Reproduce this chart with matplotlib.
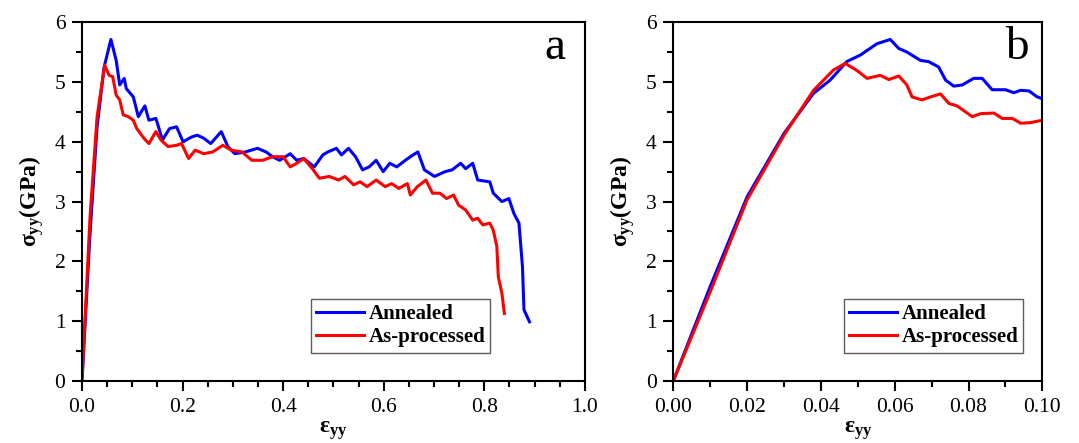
import matplotlib
matplotlib.use('Agg')
import matplotlib.pyplot as plt
from matplotlib.ticker import MultipleLocator

plt.rcParams['font.family'] = ['Liberation Serif', 'DejaVu Serif']
plt.rcParams['mathtext.fontset'] = 'custom'
plt.rcParams['mathtext.rm'] = 'Liberation Serif'
plt.rcParams['mathtext.it'] = 'Liberation Serif:bold'
plt.rcParams['mathtext.bf'] = 'Liberation Serif:bold'

# panel a - full curves
ann_x = [0.0, 0.016, 0.030, 0.044, 0.0575, 0.068, 0.075, 0.084, 0.088, 0.102, 0.112, 0.125, 0.133,
         0.147, 0.160, 0.174, 0.188, 0.201, 0.218, 0.229, 0.242, 0.256, 0.277, 0.290, 0.304, 0.325,
         0.349, 0.366, 0.379, 0.393, 0.414, 0.427, 0.441, 0.462, 0.479, 0.489, 0.506, 0.516, 0.530,
         0.544, 0.558, 0.571, 0.585, 0.599, 0.612, 0.626, 0.643, 0.653, 0.668, 0.681, 0.701, 0.722,
         0.736, 0.753, 0.763, 0.777, 0.787, 0.811, 0.818, 0.835, 0.849, 0.859, 0.869, 0.876, 0.879, 0.890]
ann_y = [0.0, 2.47, 4.25, 5.25, 5.71, 5.36, 4.95, 5.06, 4.89, 4.75, 4.42, 4.60, 4.36,
         4.39, 4.03, 4.22, 4.25, 4.00, 4.08, 4.11, 4.06, 3.97, 4.17, 3.92, 3.80, 3.83,
         3.89, 3.83, 3.75, 3.69, 3.80, 3.69, 3.72, 3.58, 3.78, 3.83, 3.89, 3.78, 3.89,
         3.75, 3.53, 3.58, 3.69, 3.50, 3.64, 3.58, 3.69, 3.75, 3.83, 3.53, 3.42, 3.50,
         3.53, 3.64, 3.55, 3.64, 3.36, 3.33, 3.14, 3.00, 3.05, 2.80, 2.64, 1.91, 1.19, 0.99]

asp_x = [0.0, 0.016, 0.030, 0.045, 0.054, 0.061, 0.068, 0.075, 0.082, 0.092, 0.102, 0.109, 0.123,
         0.133, 0.147, 0.157, 0.171, 0.188, 0.198, 0.212, 0.225, 0.242, 0.260, 0.280, 0.297, 0.318,
         0.338, 0.359, 0.379, 0.400, 0.414, 0.427, 0.441, 0.458, 0.472, 0.492, 0.510, 0.523, 0.540,
         0.553, 0.567, 0.585, 0.603, 0.616, 0.630, 0.647, 0.653, 0.667, 0.684, 0.697, 0.712, 0.725,
         0.739, 0.749, 0.763, 0.777, 0.787, 0.797, 0.811, 0.818, 0.825, 0.828, 0.835, 0.840]
asp_y = [0.0, 2.75, 4.42, 5.28, 5.11, 5.09, 4.78, 4.70, 4.45, 4.42, 4.36, 4.22, 4.06,
         3.97, 4.17, 4.03, 3.92, 3.94, 3.97, 3.72, 3.86, 3.80, 3.83, 3.94, 3.86, 3.83,
         3.69, 3.69, 3.75, 3.75, 3.58, 3.64, 3.72, 3.55, 3.39, 3.42, 3.36, 3.42, 3.28,
         3.33, 3.25, 3.36, 3.25, 3.30, 3.22, 3.30, 3.11, 3.25, 3.36, 3.14, 3.14, 3.05,
         3.11, 2.94, 2.86, 2.69, 2.72, 2.61, 2.64, 2.52, 2.25, 1.74, 1.47, 1.13]

# panel b - zoom on small strain
ann_bx = [0.0, 0.010, 0.020, 0.030, 0.038, 0.0425, 0.047, 0.0507, 0.0552, 0.0588, 0.0611, 0.0633,
          0.067, 0.0692, 0.0719, 0.0738, 0.076, 0.0783, 0.0814, 0.0837, 0.0864, 0.090, 0.0923,
          0.0941, 0.0964, 0.0986, 0.100]
ann_by = [0.0, 1.58, 3.08, 4.14, 4.81, 5.03, 5.34, 5.45, 5.64, 5.71, 5.56, 5.50,
          5.36, 5.34, 5.25, 5.03, 4.93, 4.95, 5.06, 5.06, 4.87, 4.87, 4.82,
          4.86, 4.85, 4.75, 4.72]
asp_bx = [0.0, 0.010, 0.020, 0.030, 0.038, 0.0434, 0.0466, 0.0498, 0.0525, 0.0561, 0.0584, 0.0611,
          0.0633, 0.0647, 0.0674, 0.0697, 0.0724, 0.0747, 0.0769, 0.081, 0.0833, 0.0869, 0.0891,
          0.0919, 0.0941, 0.0968, 0.100]
asp_by = [0.0, 1.49, 3.03, 4.11, 4.86, 5.20, 5.31, 5.19, 5.06, 5.11, 5.04, 5.10,
          4.95, 4.75, 4.70, 4.75, 4.80, 4.64, 4.60, 4.42, 4.47, 4.48, 4.39,
          4.39, 4.31, 4.32, 4.36]

fig = plt.figure(figsize=(10.79, 4.43), dpi=100)
ax1 = fig.add_axes([0.076, 0.14, 0.466, 0.81])
ax2 = fig.add_axes([0.624, 0.14, 0.342, 0.81])


def style(ax, xmax, xmaj, xmin, letter, lx, fmt):
    ax.set_xlim(0, xmax)
    ax.set_ylim(0, 6)
    ax.xaxis.set_major_locator(MultipleLocator(xmaj))
    ax.xaxis.set_minor_locator(MultipleLocator(xmin))
    ax.yaxis.set_major_locator(MultipleLocator(1))
    ax.yaxis.set_minor_locator(MultipleLocator(0.5))
    ax.xaxis.set_major_formatter(fmt)
    ax.tick_params(which='major', direction='out', length=7, width=1.5, labelsize=15.5, pad=5)
    ax.tick_params(which='minor', direction='out', length=4, width=1.5)
    for s in ax.spines.values():
        s.set_linewidth(1.5)
    ax.set_xlabel(r'$\varepsilon_{yy}$', fontsize=17, labelpad=2)
    ax.set_ylabel(r'$\sigma_{yy}$(GPa)', fontsize=17, fontweight='bold', labelpad=6)
    ax.text(lx, 0.93, letter, transform=ax.transAxes, fontsize=34, ha='center', va='center')
    leg = ax.legend(loc='lower left', bbox_to_anchor=(0.435, 0.05), fancybox=False,
                    edgecolor='#333333', prop={'weight': 'bold', 'size': 15},
                    handlelength=2.3, borderpad=0.25, labelspacing=0.15, handletextpad=0.2)
    leg.get_frame().set_linewidth(1.0)


ax1.plot(ann_x, ann_y, color='#0000ff', lw=2.2, label='Annealed')
ax1.plot(asp_x, asp_y, color='#ff0000', lw=2.2, label='As-processed')
style(ax1, 1.0, 0.2, 0.05, 'a', 0.94, '{x:.1f}')

ax2.plot(ann_bx, ann_by, color='#0000ff', lw=2.2, label='Annealed')
ax2.plot(asp_bx, asp_by, color='#ff0000', lw=2.2, label='As-processed')
style(ax2, 0.10, 0.02, 0.01, 'b', 0.93, '{x:.2f}')

fig.savefig('out.png', dpi=100)
